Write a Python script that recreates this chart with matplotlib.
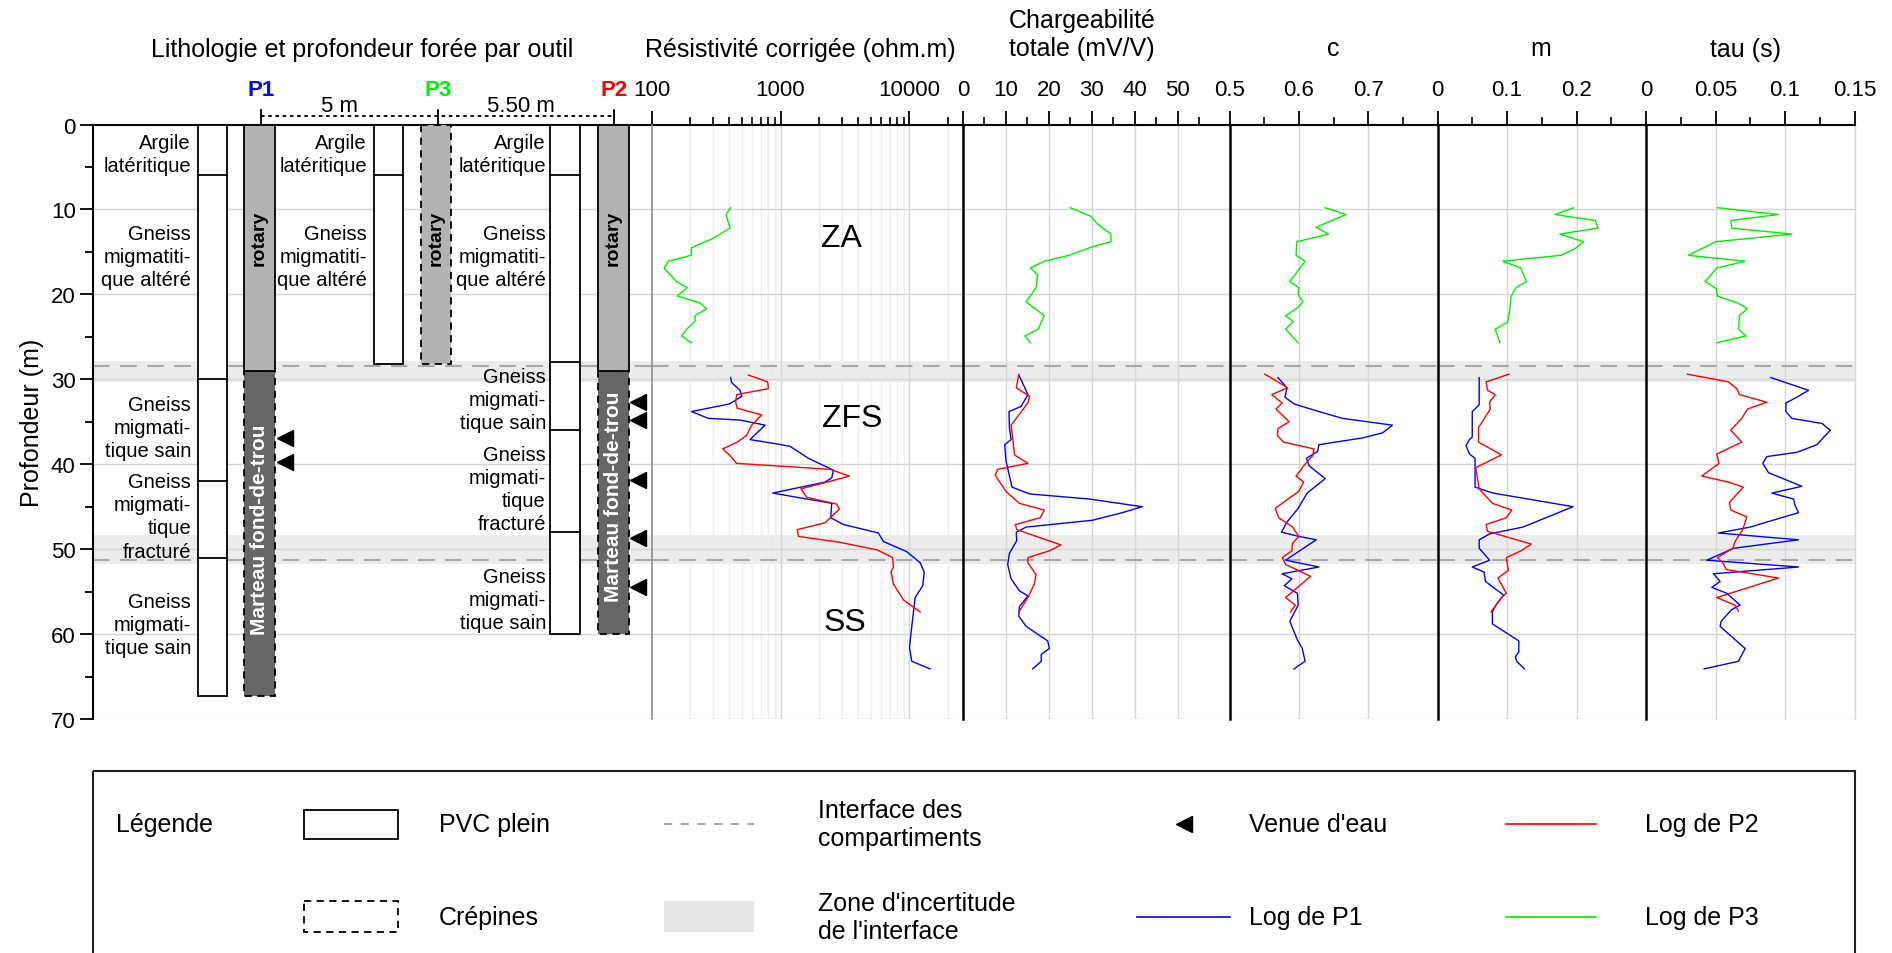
import matplotlib
matplotlib.use('Agg')
import matplotlib.pyplot as plt
from matplotlib.patches import Rectangle
from matplotlib.ticker import NullFormatter

plt.rcParams['font.family'] = ['Liberation Sans', 'DejaVu Sans']

# ---------------- data ----------------
# lithology (depth in m)
p1_layers = [0, 6, 30, 42, 51, 67.3]
p3_layers = [0, 6, 28.2]
p2_layers = [0, 6, 28, 36, 48, 60]
p1_rotary, p1_end = 29, 67.3
p3_end = 28.2
p2_rotary, p2_end = 29, 60

p1_labels = [("Argile\nlatéritique", 3.45), ("Gneiss\nmigmatiti-\nque altéré", 15.5),
             ("Gneiss\nmigmati-\ntique sain", 35.7), ("Gneiss\nmigmati-\ntique\nfracturé", 46.15),
             ("Gneiss\nmigmati-\ntique sain", 58.9)]
p3_labels = [("Argile\nlatéritique", 3.45), ("Gneiss\nmigmatiti-\nque altéré", 15.5)]
p2_labels = [("Argile\nlatéritique", 3.45), ("Gneiss\nmigmatiti-\nque altéré", 15.5),
             ("Gneiss\nmigmati-\ntique sain", 32.4), ("Gneiss\nmigmati-\ntique\nfracturé", 42.9),
             ("Gneiss\nmigmati-\ntique sain", 55.9)]

p1_water = [36.9, 39.7]
p2_water = [32.7, 34.75, 41.9, 48.7, 54.5]

interfaces = [28.4, 51.3]
bands = [(27.8, 30.3), (48.35, 51.8)]
depth_grid = [10, 20, 30, 40, 50, 60, 70]

# resistivity (ohm.m)
p3_res_z = [9.8, 10.6, 12.2, 13.5, 14.5, 15.4, 16.1, 16.9, 18.5, 19.2, 20.2, 21.0, 21.7, 22.5, 23.2, 24.1, 24.9, 25.7]
p3_res = [410, 378, 406, 292, 204, 202, 135, 125, 156, 189, 158, 237, 267, 217, 217, 187, 171, 204]
p2_res_z = [29.5, 30.3, 31.1, 31.8, 32.7, 33.4, 34.2, 35.4, 36.6, 37.4, 38.2, 38.9, 39.9, 40.6, 41.4, 41.8,
            42.9, 43.9, 44.7, 45.3, 46.9, 47.7, 48.5, 49.2, 50.1, 51.0, 52.1, 52.7, 54.1, 56.0, 57.4]
p2_res = [563, 794, 805, 457, 449, 462, 714, 597, 546, 462, 356, 401, 457, 2420, 3420, 2730,
          1440, 1600, 2730, 2860, 2210, 1350, 1375, 2900, 5650, 7400, 7500, 7200, 7500, 9000, 12100]
p1_res_z = [29.8, 30.4, 31.3, 32.0, 32.5, 32.9, 33.8, 34.6, 34.8, 35.4, 37.1, 37.6, 37.9, 39.3, 40.7, 41.6, 42.1,
            43.4, 44.6, 46.3, 47.1, 48.1, 49.1, 50.3, 51.6, 52.7, 54.3, 55.7, 57.4, 59.1, 61.6, 63.2, 64.1]
p1_res = [410, 418, 485, 500, 444, 401, 204, 275, 485, 759, 580, 933, 1186, 1644, 2571, 2495, 2213,
          869, 2495, 2449, 3077, 5740, 6280, 9530, 12100, 13000, 12680, 11060, 10740, 10420, 9990, 10420, 14450]

# chargeability (mV/V)
p3_chg_z = [9.8, 10.8, 11.7, 12.9, 13.8, 14.4, 15.4, 16.1, 16.9, 17.7, 18.5, 19.2, 20.9, 22.5, 24.1, 24.9, 25.7]
p3_chg = [25.0, 29.7, 31.3, 34.4, 34.4, 30.1, 24.7, 18.9, 15.7, 17.4, 17.2, 17.0, 14.7, 18.9, 17.5, 14.4, 15.7]
p2_chg_z = [29.4, 31.0, 32.0, 32.8, 35.4, 37.1, 38.9, 39.9, 40.6, 41.3, 43.2, 44.6, 45.4, 46.3, 47.1, 47.7,
            49.5, 50.2, 51.0, 51.6, 53.0, 54.1, 55.7, 57.4]
p2_chg = [13.0, 12.4, 15.5, 15.1, 11.2, 11.6, 12.0, 15.1, 8.1, 7.5, 10.0, 13.1, 18.9, 18.0, 12.2, 12.5,
          22.8, 20.1, 15.1, 15.1, 17.0, 16.6, 15.1, 13.0]
p1_chg_z = [29.6, 31.8, 33.2, 33.8, 35.7, 37.1, 37.7, 39.6, 42.7, 43.5, 44.1, 45.0, 45.7, 46.6, 47.4, 48.0,
            49.0, 50.5, 51.8, 53.5, 54.9, 55.5, 56.8, 57.9, 59.1, 60.8, 61.7, 62.4, 63.2, 64.1]
p1_chg = [13.1, 15.1, 13.5, 10.7, 10.8, 11.2, 9.7, 10.0, 11.4, 15.5, 29.4, 41.7, 37.1, 30.1, 14.7, 12.4,
          12.5, 10.8, 10.4, 11.2, 13.1, 15.1, 13.1, 13.0, 14.7, 19.7, 20.1, 18.2, 18.2, 16.2]

# c
p3_c_z = [9.8, 10.6, 12.1, 12.9, 13.8, 15.4, 16.1, 18.5, 19.2, 20.0, 20.9, 21.6, 22.5, 23.2, 24.1, 25.7]
p3_c = [0.638, 0.668, 0.625, 0.643, 0.597, 0.596, 0.609, 0.587, 0.600, 0.599, 0.606, 0.598, 0.581, 0.592, 0.581, 0.599]
p2_c_z = [29.4, 31.0, 31.8, 32.8, 33.5, 34.2, 35.0, 35.8, 36.6, 37.4, 38.2, 39.0, 39.9, 41.4, 42.1, 43.2, 44.0,
          45.2, 46.3, 47.4, 48.5, 49.3, 50.2, 51.0, 51.8, 53.2, 55.7, 56.6, 57.4]
p2_c = [0.551, 0.584, 0.561, 0.576, 0.567, 0.576, 0.586, 0.570, 0.569, 0.578, 0.622, 0.620, 0.610, 0.596, 0.607,
        0.600, 0.586, 0.566, 0.571, 0.591, 0.600, 0.591, 0.590, 0.576, 0.581, 0.617, 0.581, 0.595, 0.588]
p1_c_z = [29.8, 31.0, 32.1, 32.9, 33.8, 34.6, 35.4, 36.3, 36.9, 37.7, 38.5, 39.3, 40.2, 41.7, 43.4, 45.2, 46.8,
          48.0, 48.5, 48.9, 51.3, 52.1, 52.9, 53.5, 54.3, 55.2, 56.6, 58.5, 60.7, 61.7, 63.2, 64.1]
p1_c = [0.570, 0.583, 0.580, 0.593, 0.629, 0.663, 0.735, 0.721, 0.692, 0.629, 0.627, 0.611, 0.615, 0.638, 0.612,
        0.599, 0.583, 0.575, 0.600, 0.625, 0.581, 0.629, 0.576, 0.590, 0.579, 0.598, 0.599, 0.587, 0.598, 0.605,
        0.609, 0.593]

# m
p3_m_z = [9.8, 10.6, 11.3, 12.2, 12.9, 13.8, 14.6, 15.4, 16.1, 16.9, 18.5, 19.2, 20.2, 21.8, 23.3, 24.1, 25.7]
p3_m = [0.196, 0.169, 0.227, 0.231, 0.176, 0.210, 0.198, 0.178, 0.094, 0.120, 0.128, 0.113, 0.106, 0.104, 0.101, 0.083, 0.090]
p2_m_z = [29.4, 30.3, 31.3, 31.8, 32.7, 33.5, 35.7, 37.4, 38.9, 40.4, 42.9, 44.6, 45.4, 46.3, 47.1, 47.9,
          49.4, 50.2, 51.0, 52.5, 53.4, 55.2, 55.7, 57.4]
p2_m = [0.103, 0.070, 0.072, 0.083, 0.075, 0.076, 0.059, 0.059, 0.092, 0.055, 0.060, 0.079, 0.107, 0.099, 0.070,
        0.072, 0.135, 0.120, 0.099, 0.102, 0.087, 0.099, 0.092, 0.077]
p1_m_z = [29.8, 33.0, 33.8, 36.8, 37.1, 37.8, 38.8, 39.3, 42.7, 43.4, 45.0, 47.4, 48.2, 48.9, 49.9, 51.3, 52.1,
          52.7, 53.8, 55.4, 56.6, 57.4, 58.8, 60.8, 62.1, 62.7, 63.2, 64.1]
p1_m = [0.060, 0.060, 0.050, 0.050, 0.046, 0.041, 0.046, 0.054, 0.054, 0.080, 0.195, 0.123, 0.075, 0.060, 0.060,
        0.075, 0.050, 0.067, 0.069, 0.095, 0.084, 0.079, 0.079, 0.117, 0.117, 0.112, 0.114, 0.125]

# tau (s)
p3_tau_z = [9.8, 10.6, 11.3, 12.2, 12.9, 13.8, 15.4, 16.1, 16.9, 18.5, 19.3, 20.2, 21.0, 21.7, 22.5, 24.1, 24.9, 25.7]
p3_tau = [0.0516, 0.0953, 0.0610, 0.0617, 0.1049, 0.0504, 0.0305, 0.0713, 0.0509, 0.0425, 0.0504, 0.0514,
          0.0658, 0.0730, 0.0672, 0.0665, 0.0720, 0.0509]
p2_tau_z = [29.4, 30.3, 31.1, 31.8, 32.7, 33.5, 34.6, 36.0, 37.4, 38.8, 39.9, 41.4, 42.1, 42.7, 44.5, 45.4,
            46.2, 47.7, 49.1, 49.9, 51.0, 51.7, 52.4, 53.4, 55.7, 56.6, 57.3]
p2_tau = [0.0298, 0.0593, 0.0653, 0.0672, 0.0869, 0.0730, 0.0689, 0.0610, 0.0689, 0.0509, 0.0525, 0.0401,
          0.0593, 0.0700, 0.0600, 0.0610, 0.0725, 0.0696, 0.0641, 0.0624, 0.0514, 0.0557, 0.0576, 0.0953,
          0.0509, 0.0641, 0.0665]
p1_tau_z = [29.8, 31.3, 32.1, 32.8, 33.8, 34.6, 35.2, 36.0, 37.7, 38.6, 39.1, 39.9, 41.0, 42.6, 43.4, 44.1,
            44.9, 45.7, 47.4, 48.1, 48.9, 49.9, 51.3, 52.1, 52.9, 53.8, 54.5, 55.2, 56.6, 57.1, 58.5, 59.1,
            61.7, 63.2, 64.1]
p1_tau = [0.0898, 0.1169, 0.1085, 0.1006, 0.1006, 0.1049, 0.1265, 0.1325, 0.1229, 0.1085, 0.0869, 0.0840,
          0.0881, 0.1121, 0.0905, 0.1061, 0.1073, 0.1097, 0.0749, 0.0521, 0.1097, 0.0629, 0.0437, 0.1097,
          0.0485, 0.0533, 0.0473, 0.0581, 0.0677, 0.0617, 0.0540, 0.0533, 0.0713, 0.0665, 0.0418]

BLUE, RED, GREEN = '#0000ff', '#ff0000', '#00ee00'
GRID = '#d6d6d6'
BAND = '#ececec'
DASH = '#a8a8a8'

W, H = 1892, 954
TOP, BOT = 125.5, 720


def box(x0, x1):
    return [x0 / W, 1 - BOT / H, (x1 - x0) / W, (BOT - TOP) / H]


def background(ax):
    for a, b in bands:
        ax.axhspan(a, b, color=BAND, lw=0, zorder=0.1)
    for d in depth_grid:
        ax.axhline(d, color=GRID, lw=1, zorder=0.3)
    for d in interfaces:
        ax.axhline(d, color=DASH, lw=1.5, dashes=(8, 5), zorder=0.5)


fig = plt.figure(figsize=(18.92, 9.54), dpi=100)

# ---------------- lithology panel ----------------
ax0 = fig.add_axes(box(93, 651.6))
ax0.set_xlim(93, 651.6)
ax0.set_ylim(70, 0)
for s in ['right', 'bottom']:
    ax0.spines[s].set_visible(False)
ax0.spines['left'].set_linewidth(1.5)
ax0.spines['top'].set_linewidth(1.5)
ax0.set_xticks([])
ax0.set_yticks(range(0, 71, 10))
ax0.set_yticks(range(5, 70, 10), minor=True)
ax0.tick_params(axis='y', which='major', length=9.5, width=1.3, labelsize=16, pad=3)
ax0.tick_params(axis='y', which='minor', length=5.5, width=1.3)
ax0.set_ylabel('Profondeur (m)', fontsize=18)
ax0.yaxis.set_label_coords(-0.088, 0.5)
background(ax0)


def pvc(x0, x1, layers):
    ax0.add_patch(Rectangle((x0, layers[0]), x1 - x0, layers[-1] - layers[0],
                            fc='white', ec='black', lw=1.3, zorder=3))
    for d in layers[1:-1]:
        ax0.plot([x0, x1], [d, d], color='black', lw=1.3, zorder=4)


def tool(x0, x1, top, bot, fc, dashed):
    ax0.add_patch(Rectangle((x0, top), x1 - x0, bot - top, fc=fc, ec='black', lw=1.3,
                            ls=(0, (4, 3)) if dashed else '-', zorder=3))


def labels(xr, items):
    for txt, d in items:
        ax0.text(xr, d, txt, ha='right', va='center', multialignment='right',
                 fontsize=14.5, linespacing=1.27, zorder=5)


pvc(198, 227, p1_layers)
pvc(374, 403, p3_layers)
pvc(550, 580, p2_layers)

tool(244, 275, p1_rotary, p1_end, '#666666', True)
tool(244, 275, 0, p1_rotary, '#b3b3b3', False)
tool(421, 451, 0, p3_end, '#b3b3b3', True)
tool(598, 629, p2_rotary, p2_end, '#666666', True)
tool(598, 629, 0, p2_rotary, '#b3b3b3', False)

for xc in [259.5, 436, 613.5]:
    ax0.text(xc, 13.3, 'rotary', rotation=90, ha='center', va='center',
             fontsize=14, fontweight='bold', zorder=5)
ax0.text(259.5, 47.6, 'Marteau fond-de-trou', rotation=90, ha='center', va='center',
         fontsize=15, fontweight='bold', color='white', zorder=5)
ax0.text(613.5, 43.7, 'Marteau fond-de-trou', rotation=90, ha='center', va='center',
         fontsize=15, fontweight='bold', color='white', zorder=5)

labels(191, p1_labels)
labels(367, p3_labels)
labels(546, p2_labels)

ax0.plot([285] * len(p1_water), p1_water, marker='<', ls='none', color='black', ms=11, zorder=6, clip_on=False)
ax0.plot([638] * len(p2_water), p2_water, marker='<', ls='none', color='black', ms=11, zorder=6, clip_on=False)


# ---------------- log panels ----------------
def setup(ax, left_color, left_lw):
    ax.set_ylim(70, 0)
    ax.xaxis.tick_top()
    ax.set_yticks([])
    for s in ['right', 'bottom']:
        ax.spines[s].set_visible(False)
    ax.spines['top'].set_linewidth(1.5)
    ax.spines['left'].set_color(left_color)
    ax.spines['left'].set_linewidth(left_lw)
    ax.spines['left'].set_zorder(5)
    ax.tick_params(axis='x', which='major', direction='out', length=10, width=1.3, labelsize=16, pad=8)
    ax.tick_params(axis='x', which='minor', direction='out', length=6, width=1.2)
    background(ax)


def logs(ax, series):
    for z, v, c in series:
        ax.plot(v, z, color=c, lw=1.0, zorder=4)


ax1 = fig.add_axes(box(651.6, 963))
ax1.set_xscale('log')
ax1.set_xlim(100, 26000)
setup(ax1, '#8c8c8c', 1.2)
res_minor = [k * 10 ** e for e in [2, 3] for k in range(2, 10)] + [20000]
ax1.set_xticks([100, 1000, 10000])
ax1.set_xticklabels(['100', '1000', '10000'])
ax1.set_xticks(res_minor, minor=True)
ax1.xaxis.set_minor_formatter(NullFormatter())
for v in res_minor:
    ax1.axvline(v, color='#efefef', lw=1, zorder=0.2)
for v in [1000, 10000]:
    ax1.axvline(v, color=GRID, lw=1, zorder=0.2)
logs(ax1, [(p1_res_z, p1_res, BLUE), (p2_res_z, p2_res, RED), (p3_res_z, p3_res, GREEN)])

ax2 = fig.add_axes(box(963, 1229.5))
ax2.set_xlim(0, 62)
setup(ax2, 'black', 1.8)
ax2.set_xticks([0, 10, 20, 30, 40, 50])
ax2.set_xticks([5, 15, 25, 35, 45, 55], minor=True)
for v in [10, 20, 30, 40, 50]:
    ax2.axvline(v, color=GRID, lw=1, zorder=0.2)
logs(ax2, [(p1_chg_z, p1_chg, BLUE), (p2_chg_z, p2_chg, RED), (p3_chg_z, p3_chg, GREEN)])

ax3 = fig.add_axes(box(1229.5, 1437.5))
ax3.set_xlim(0.5, 0.8)
setup(ax3, 'black', 1.8)
ax3.set_xticks([0.5, 0.6, 0.7])
ax3.set_xticklabels(['0.5', '0.6', '0.7'])
ax3.set_xticks([0.55, 0.65, 0.75], minor=True)
for v in [0.6, 0.7]:
    ax3.axvline(v, color=GRID, lw=1, zorder=0.2)
logs(ax3, [(p1_c_z, p1_c, BLUE), (p2_c_z, p2_c, RED), (p3_c_z, p3_c, GREEN)])

ax4 = fig.add_axes(box(1437.5, 1646))
ax4.set_xlim(0, 0.3)
setup(ax4, 'black', 1.8)
ax4.set_xticks([0, 0.1, 0.2])
ax4.set_xticklabels(['0', '0.1', '0.2'])
ax4.set_xticks([0.05, 0.15, 0.25], minor=True)
for v in [0.1, 0.2]:
    ax4.axvline(v, color=GRID, lw=1, zorder=0.2)
logs(ax4, [(p1_m_z, p1_m, BLUE), (p2_m_z, p2_m, RED), (p3_m_z, p3_m, GREEN)])

ax5 = fig.add_axes(box(1646, 1854.6))
ax5.set_xlim(0, 0.15)
setup(ax5, 'black', 1.8)
ax5.set_xticks([0, 0.05, 0.1, 0.15])
ax5.set_xticklabels(['0', '0.05', '0.1', '0.15'])
ax5.set_xticks([0.025, 0.075, 0.125], minor=True)
for v in [0.05, 0.1, 0.15]:
    ax5.axvline(v, color=GRID, lw=1, zorder=0.2, clip_on=False)
logs(ax5, [(p1_tau_z, p1_tau, BLUE), (p2_tau_z, p2_tau, RED), (p3_tau_z, p3_tau, GREEN)])

# ---------------- overlay: titles, well heads, legend ----------------
ov = fig.add_axes([0, 0, 1, 1])
ov.set_xlim(0, W)
ov.set_ylim(H, 0)
ov.axis('off')

tfs = 18
ov.text(362, 49.5, 'Lithologie et profondeur forée par outil', ha='center', va='center', fontsize=tfs)
ov.text(800, 49.5, 'Résistivité corrigée (ohm.m)', ha='center', va='center', fontsize=tfs)
ov.text(1082, 35, 'Chargeabilité\ntotale (mV/V)', ha='center', va='center', fontsize=tfs, linespacing=1.2)
ov.text(1333, 49.5, 'c', ha='center', va='center', fontsize=tfs)
ov.text(1541, 49.5, 'm', ha='center', va='center', fontsize=tfs)
ov.text(1745, 49.5, 'tau (s)', ha='center', va='center', fontsize=tfs)

ov.text(841, 239, 'ZA', ha='center', va='center', fontsize=23)
ov.text(852, 419, 'ZFS', ha='center', va='center', fontsize=23)
ov.text(845, 623, 'SS', ha='center', va='center', fontsize=23)

for x, name, col in [(261, 'P1', BLUE), (438, 'P3', GREEN), (614, 'P2', RED)]:
    ov.text(x, 90.5, name, ha='center', va='center', fontsize=16, fontweight='bold', color=col)
    ov.plot([x, x], [111, 125.5], color='black', lw=1.3)
ov.plot([261, 614], [117, 117], color='black', lw=1.3, dashes=(2, 2))
ov.text(339, 106, '5 m', ha='center', va='center', fontsize=16)
ov.text(521, 106, '5.50 m', ha='center', va='center', fontsize=16)

# legend box
ov.add_patch(Rectangle((93, 772), 1762, 300, fill=False, ec='#222222', lw=1.5, clip_on=False))
fs = 18
ov.text(116, 825, 'Légende', va='center', fontsize=fs)
ov.add_patch(Rectangle((304, 811), 94, 29, fc='white', ec='black', lw=1.3))
ov.text(439, 825, 'PVC plein', va='center', fontsize=fs)
ov.add_patch(Rectangle((304, 902), 94, 31, fc='white', ec='black', lw=1.3, ls=(0, (4, 3))))
ov.text(439, 918, 'Crépines', va='center', fontsize=fs)
ov.plot([664, 754], [825, 825], color=DASH, lw=1.5, dashes=(4, 4))
ov.text(818, 825, 'Interface des\ncompartiments', va='center', fontsize=fs, linespacing=1.2)
ov.add_patch(Rectangle((664, 902), 90, 31, fc='#e6e6e6', ec='none'))
ov.text(818, 918, "Zone d'incertitude\nde l'interface", va='center', fontsize=fs, linespacing=1.2)
ov.plot([1184], [825], marker='<', color='black', ms=11, ls='none')
ov.text(1249, 825, "Venue d'eau", va='center', fontsize=fs)
ov.plot([1137, 1230], [918, 918], color=BLUE, lw=1.2)
ov.text(1249, 918, 'Log de P1', va='center', fontsize=fs)
ov.plot([1506, 1596], [825, 825], color=RED, lw=1.2)
ov.text(1645, 825, 'Log de P2', va='center', fontsize=fs)
ov.plot([1506, 1596], [918, 918], color=GREEN, lw=1.2)
ov.text(1645, 918, 'Log de P3', va='center', fontsize=fs)

plt.savefig('out.png', dpi=100)
